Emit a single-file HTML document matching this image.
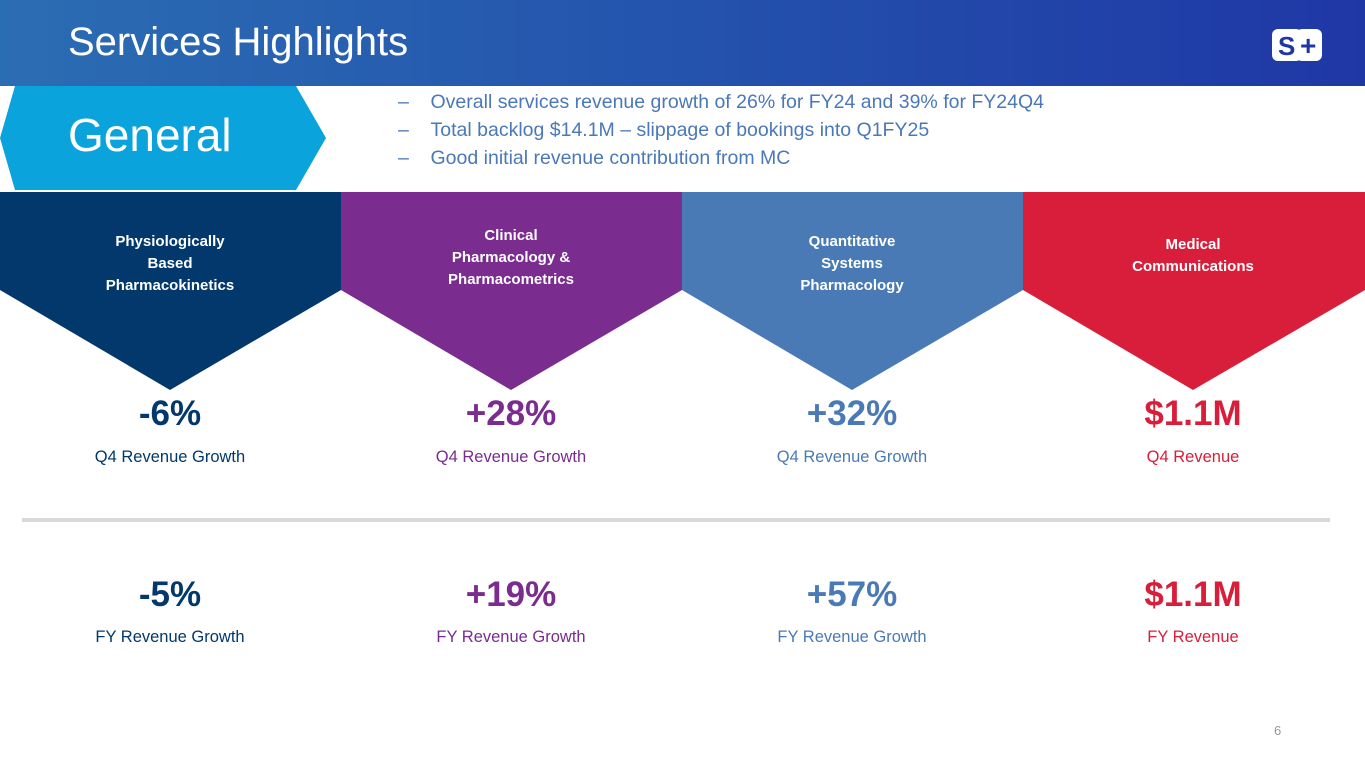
<!DOCTYPE html>
<html><head><meta charset="utf-8"><style>
body{margin:0;width:1365px;height:768px;overflow:hidden;background:#fff;font-family:"Liberation Sans",sans-serif;position:relative}
.abs{position:absolute}
.hdr{left:0;top:0;width:1365px;height:86px;background:linear-gradient(90deg,#2b6db3 0%,#2453ad 50%,#1f37a5 100%)}
.title{left:68px;top:20px;color:#fff;font-size:40px}
.bul{left:398px;color:#4a78b8;font-size:19.5px}
.val{width:340px;text-align:center;font-size:35px;font-weight:bold}
.lab{width:340px;text-align:center;font-size:16.5px}
.ct{width:340px;text-align:center;color:#fff;font-size:15px;font-weight:bold;line-height:22px}
</style></head><body>
<div class="abs hdr"></div>
<div class="abs title">Services Highlights</div>
<svg class="abs" style="left:1270px;top:27px" width="54" height="36">
<rect x="2" y="2" width="30" height="32" rx="6" fill="#fff"/><rect x="26" y="2" width="26" height="32" rx="6" fill="#fff"/>
<text x="8" y="28" font-size="26" font-weight="bold" fill="#1f37a5" font-family="Liberation Sans">S</text>
<text x="30" y="28" font-size="28" font-weight="bold" fill="#1f37a5" font-family="Liberation Sans">+</text></svg>
<svg class="abs" style="left:0;top:86px" width="330" height="106">
<polygon points="15,0 296,0 326,52 296,104 15,104 0,52" fill="#0aa3db"/></svg>
<div class="abs" style="left:68px;top:108px;color:#fff;font-size:46px">General</div>
<div class="abs bul" style="top:91px">–&nbsp;&nbsp;&nbsp;&nbsp;Overall services revenue growth of 26% for FY24 and 39% for FY24Q4</div>
<div class="abs bul" style="top:119px">–&nbsp;&nbsp;&nbsp;&nbsp;Total backlog $14.1M – slippage of bookings into Q1FY25</div>
<div class="abs bul" style="top:147px">–&nbsp;&nbsp;&nbsp;&nbsp;Good initial revenue contribution from MC</div>
<svg class="abs" style="left:0;top:190px" width="1365" height="202">
<polygon points="0,2 341,2 341,100 170,200 0,100" fill="#02386c"/>
<polygon points="341,2 682,2 682,100 511,200 341,100" fill="#7a2c8f"/>
<polygon points="682,2 1023,2 1023,100 852,200 682,100" fill="#4a7ab6"/>
<polygon points="1023,2 1365,2 1365,100 1193,200 1023,100" fill="#d81e3a"/>
</svg>
<div class="abs ct" style="left:0;top:231px">Physiologically<br>Based<br>Pharmacokinetics</div>
<div class="abs ct" style="left:341px;top:225px">Clinical<br>Pharmacology &amp;<br>Pharmacometrics</div>
<div class="abs ct" style="left:682px;top:231px">Quantitative<br>Systems<br>Pharmacology</div>
<div class="abs ct" style="left:1023px;top:234px">Medical<br>Communications</div>

<div class="abs val" style="left:0;top:394px;color:#02386c">-6%</div>
<div class="abs val" style="left:341px;top:394px;color:#7a2c8f">+28%</div>
<div class="abs val" style="left:682px;top:394px;color:#4a7ab6">+32%</div>
<div class="abs val" style="left:1023px;top:394px;color:#d81e3a">$1.1M</div>
<div class="abs lab" style="left:0;top:448px;color:#02386c">Q4 Revenue Growth</div>
<div class="abs lab" style="left:341px;top:448px;color:#7a2c8f">Q4 Revenue Growth</div>
<div class="abs lab" style="left:682px;top:448px;color:#4a7ab6">Q4 Revenue Growth</div>
<div class="abs lab" style="left:1023px;top:448px;color:#d81e3a">Q4 Revenue</div>

<div class="abs" style="left:22px;top:518px;width:1308px;height:4px;background:#d9d9d9"></div>

<div class="abs val" style="left:0;top:575px;color:#02386c">-5%</div>
<div class="abs val" style="left:341px;top:575px;color:#7a2c8f">+19%</div>
<div class="abs val" style="left:682px;top:575px;color:#4a7ab6">+57%</div>
<div class="abs val" style="left:1023px;top:575px;color:#d81e3a">$1.1M</div>
<div class="abs lab" style="left:0;top:628px;color:#02386c">FY Revenue Growth</div>
<div class="abs lab" style="left:341px;top:628px;color:#7a2c8f">FY Revenue Growth</div>
<div class="abs lab" style="left:682px;top:628px;color:#4a7ab6">FY Revenue Growth</div>
<div class="abs lab" style="left:1023px;top:628px;color:#d81e3a">FY Revenue</div>

<div class="abs" style="left:1274px;top:723px;color:#999;font-size:13px">6</div>
</body></html>
